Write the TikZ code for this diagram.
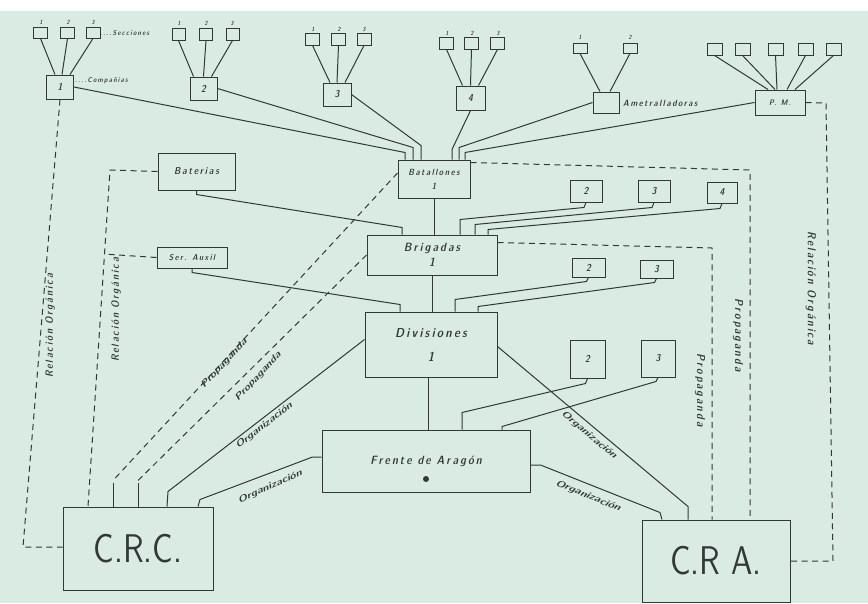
\documentclass[tikz,border=0pt]{standalone}
\usepackage{fontspec}
\newfontfamily\hand[LetterSpace=18]{lmsansdemicond10-oblique.otf}
\newfontfamily\handr{lmsansdemicond10-oblique.otf}
\newfontfamily\bigsans{lmsans10-regular.otf}
\usetikzlibrary{calc}
\definecolor{paper}{RGB}{218,235,227}
\definecolor{ink}{RGB}{50,56,54}
\begin{document}
\begin{tikzpicture}[x=1pt,y=-1pt,
  box/.style={draw=ink,line width=1pt,inner sep=0pt,align=center,text=ink,font=\hand\fontsize{10}{11}\selectfont},
  sec/.style={draw=ink,line width=0.9pt,inner sep=0pt,minimum width=14pt,minimum height=11pt},
  num/.style={text=ink,inner sep=0pt,font=\hand\fontsize{6}{6}\selectfont},
  conn/.style={draw=ink,line width=1pt},
  rel/.style={draw=ink,line width=1pt,dash pattern=on 6pt off 4.5pt},
  lab/.style={text=ink,inner sep=0pt,font=\hand\fontsize{9}{10}\selectfont},
  vlab/.style={text=ink,inner sep=0pt,font=\hand\fontsize{10.5}{11}\selectfont},
  slab/.style={text=ink,inner sep=0pt,font=\handr\fontsize{9}{10}\selectfont},
  biglab/.style={draw=ink,line width=1pt,inner sep=0pt,text=ink,font=\bigsans\fontsize{40}{40}\selectfont},
]
\useasboundingbox (0,0) rectangle (868,603);
\fill[paper] (0,0) rectangle (868,603);
\fill[white] (0,0) rectangle (868,11);

% ---------- sections and companies ----------
\node[sec] (s11) at (40.5,32.5) {};
\node[sec] (s12) at (67.5,32.5) {};
\node[sec] (s13) at (93,32.5) {};
\node[num] (n11) at (41,22) {1};
\node[num] (n12) at (68,22) {2};
\node[num] (n13) at (93,22) {3};
\node[box,minimum width=27pt,minimum height=24pt] (c1) at (60,87) {1};
\node[lab,anchor=west,font=\hand\fontsize{7}{8}\selectfont] (secc) at (100,33) {....Secciones};
\node[lab,anchor=west,font=\hand\fontsize{7}{8}\selectfont] (comp) at (75,81) {....Compañias};

\node[sec,minimum width=13pt,minimum height=12pt] (s21) at (178.5,34) {};
\node[sec,minimum width=13pt,minimum height=12pt] (s22) at (206,34) {};
\node[sec,minimum width=13pt,minimum height=12pt] (s23) at (232.5,34) {};
\node[num] (n21) at (179,23) {1};
\node[num] (n22) at (206,23) {2};
\node[num] (n23) at (232,23) {3};
\node[box,minimum width=27pt,minimum height=23pt] (c2) at (203.5,88.5) {2};

\node[sec,minimum height=12pt] (s31) at (312.5,39) {};
\node[sec,minimum height=12pt] (s32) at (338.5,39) {};
\node[sec,minimum height=12pt] (s33) at (364,39) {};
\node[num] (n31) at (313,29) {1};
\node[num] (n32) at (339,29) {2};
\node[num] (n33) at (364,29) {3};
\node[box,minimum width=28pt,minimum height=23pt] (c3) at (337,94.5) {3};

\node[sec,minimum height=12pt] (s41) at (446.5,43) {};
\node[sec,minimum height=12pt] (s42) at (471.5,43) {};
\node[sec,minimum height=12pt] (s43) at (497.5,43) {};
\node[num] (n41) at (447,33) {1};
\node[num] (n42) at (472,33) {2};
\node[num] (n43) at (498,33) {3};
\node[box,minimum width=29pt,minimum height=24pt] (c4) at (470.5,98) {4};

\node[sec,minimum height=10pt] (s51) at (580,48) {};
\node[sec,minimum height=10pt] (s52) at (630,48) {};
\node[num] (n51) at (580,37) {1};
\node[num] (n52) at (630,37) {2};
\node[box,minimum width=26pt,minimum height=21pt] (c5) at (606,102.5) {};
\node[lab,anchor=west] (amet) at (623,103) {Ametralladoras};

\node[sec,minimum width=15pt,minimum height=12pt] (p1) at (714.5,49) {};
\node[sec,minimum width=15pt,minimum height=12pt] (p2) at (742.5,49) {};
\node[sec,minimum width=15pt,minimum height=12pt] (p3) at (775.5,49) {};
\node[sec,minimum width=15pt,minimum height=12pt] (p4) at (805.5,49) {};
\node[sec,minimum width=15pt,minimum height=12pt] (p5) at (833.5,49) {};
\node[box,minimum width=50pt,minimum height=25pt,font=\hand\fontsize{8}{9}\selectfont] (pm) at (780,102.5) {P. M.};

\draw[conn] (s11.south) -- ([xshift=-5pt]c1.north);
\draw[conn] (s12.south) -- ([xshift=2pt]c1.north);
\draw[conn] (s13.south) -- ([xshift=10pt]c1.north);
\draw[conn] (s21.south) -- ([xshift=-10pt]c2.north);
\draw[conn] (s22.south) -- (c2.north);
\draw[conn] (s23.south) -- ([xshift=8pt]c2.north);
\draw[conn] (s31.south) -- ([xshift=-7pt]c3.north);
\draw[conn] (s32.south) -- (c3.north);
\draw[conn] (s33.south) -- ([xshift=8pt]c3.north);
\draw[conn] (s41.south) -- ([xshift=-8pt]c4.north);
\draw[conn] (s42.south) -- (c4.north);
\draw[conn] (s43.south) -- ([xshift=8pt]c4.north);
\draw[conn] (s51.south) -- ([xshift=-6pt]c5.north);
\draw[conn] (s52.south) -- ([xshift=4pt]c5.north);
\draw[conn] (p1.south) -- ([xshift=-12pt]pm.north);
\draw[conn] (p2.south) -- ([xshift=-5pt]pm.north);
\draw[conn] (p3.south) -- ([xshift=-3pt]pm.north);
\draw[conn] (p4.south) -- ([xshift=7pt]pm.north);
\draw[conn] (p5.south) -- ([xshift=15pt]pm.north);

% ---------- main chain ----------
\node[box,minimum width=72pt,minimum height=38pt,font=\hand\fontsize{9}{10}\selectfont] (bat) at (434,179) {Batallones\\[4pt]1};
\node[box,minimum width=77pt,minimum height=37pt] (bte) at (196.5,171.5) {Baterias};
\node[box,minimum width=70pt,minimum height=21pt,font=\hand\fontsize{8.5}{9}\selectfont] (sq) at (192,257.5) {Ser. Auxil};
\node[box,minimum width=130pt,minimum height=40pt,font=\hand\fontsize{12}{13}\selectfont] (bri) at (432,255) {Brigadas\\[2pt]1};
\node[box,minimum width=132pt,minimum height=65pt,font=\hand\fontsize{13}{14}\selectfont] (div) at (431,344.5) {Divisiones\\[10pt]1};
\node[box,minimum width=208pt,minimum height=62pt,font=\hand\fontsize{12}{13}\selectfont] (fre) at (426,461) {Frente de Aragón};
\fill[ink] ([yshift=-18pt]fre.center) circle (3pt);

\node[box,minimum width=32pt,minimum height=22pt] (b2) at (586,191) {2};
\node[box,minimum width=32pt,minimum height=22pt] (b3) at (654,191) {3};
\node[box,minimum width=30pt,minimum height=21pt] (b4) at (722,192.5) {4};
\node[box,minimum width=33pt,minimum height=19pt] (r2) at (588.5,267.5) {2};
\node[box,minimum width=33pt,minimum height=18pt] (r3) at (656.5,269) {3};
\node[box,minimum width=35pt,minimum height=38pt] (d2) at (587.5,359) {2};
\node[box,minimum width=34pt,minimum height=37pt] (d3) at (658,358.5) {3};

\node[biglab,minimum width=150pt,minimum height=83pt] (crc) at (138,548.5) {\scalebox{0.8}[1]{C.R.C.}};
\node[biglab,minimum width=148pt,minimum height=82pt] (cra) at (716,561) {\scalebox{0.8}[1]{C.R A.}};

% companies -> batallones
\draw[conn] (c1.east) -- ([xshift=-29pt,yshift=7pt]bat.north) -- ([xshift=-29pt]bat.north);
\draw[conn] (c2.east) -- ([xshift=-21pt,yshift=12pt]bat.north) -- ([xshift=-21pt]bat.north);
\draw[conn] (c3.east) -- ([xshift=-13pt,yshift=14pt]bat.north) -- ([xshift=-13pt]bat.north);
\draw[conn] (c4.south) -- ([xshift=18pt,yshift=10pt]bat.north) -- ([xshift=18pt]bat.north);
\draw[conn] (c5.west) -- ([xshift=25pt,yshift=12pt]bat.north) -- ([xshift=25pt]bat.north);
\draw[conn] (pm.west) -- ([xshift=31pt,yshift=7pt]bat.north) -- ([xshift=31pt]bat.north);

% vertical chain
\draw[conn] (bat.south) -- (bat.south |- bri.north);
\draw[conn] (bri.south) -- (bri.south |- div.north);
\draw[conn] ([xshift=-3pt]div.south) -- ([xshift=-3pt]div.south |- fre.north);

% side units
\draw[conn] (bte.south) -- ([yshift=-4pt]bte.south) -- ([xshift=-30pt,yshift=7pt]bri.north) -- ([xshift=-30pt]bri.north);
\draw[conn] (sq.south) -- ([yshift=-4pt]sq.south) -- ([xshift=-31pt,yshift=7pt]div.north) -- ([xshift=-31pt]div.north);
\draw[conn] (b2.south) -- ([xshift=-2pt,yshift=-5pt]b2.south) -- ([xshift=28pt,yshift=15pt]bri.north) -- ([xshift=28pt]bri.north);
\draw[conn] (b3.south) -- ([xshift=-2pt,yshift=-5pt]b3.south) -- ([xshift=43pt,yshift=10pt]bri.north) -- ([xshift=43pt]bri.north);
\draw[conn] (b4.south) -- ([xshift=-2pt,yshift=-5pt]b4.south) -- ([xshift=56pt,yshift=5pt]bri.north) -- ([xshift=56pt]bri.north);
\draw[conn] (r2.south) -- ([xshift=-2pt,yshift=-4pt]r2.south) -- ([xshift=24pt,yshift=12pt]div.north) -- ([xshift=24pt]div.north);
\draw[conn] (r3.south) -- ([xshift=-2pt,yshift=-4pt]r3.south) -- ([xshift=47pt,yshift=5pt]div.north) -- ([xshift=47pt]div.north);
\draw[conn] (d2.south) -- ([xshift=-2pt,yshift=-5pt]d2.south) -- ([xshift=36pt,yshift=17pt]fre.north) -- ([xshift=36pt]fre.north);
\draw[conn] (d3.south) -- ([xshift=-2pt,yshift=-4pt]d3.south) -- ([xshift=76pt,yshift=3pt]fre.north) -- ([xshift=76pt]fre.north);

% organizacion
\draw[conn] ([yshift=5pt]div.west) -- ([xshift=30pt,yshift=15pt]crc.north) -- ([xshift=29pt]crc.north);
\draw[conn] ([yshift=4pt]fre.west) -- ([xshift=-9pt,yshift=4pt]fre.west) -- ([xshift=62pt,yshift=7pt]crc.north) -- ([xshift=60pt]crc.north);
\draw[conn] ([yshift=-2pt]div.east) -- ([xshift=-28pt,yshift=13pt]cra.north) -- ([xshift=-28pt]cra.north);
\draw[conn] ([yshift=-4pt]fre.east) -- ([xshift=10pt,yshift=-4pt]fre.east) -- ([xshift=-56pt,yshift=7pt]cra.north) -- ([xshift=-54pt]cra.north);
\node[slab,rotate=37.6] (o1) at (264,426) {\scalebox{1.5}[1]{Organización}};
\node[slab,rotate=24] (o2) at (270,487) {\scalebox{1.5}[1]{Organización}};
\node[slab,rotate=-40] (o3) at (589,435) {\scalebox{1.5}[1]{Organización}};
\node[slab,rotate=-22] (o4) at (588,496) {\scalebox{1.5}[1]{Organización}};

% propaganda (left)
\draw[rel] ([yshift=6pt]bat.west) -- ([xshift=-25pt,yshift=26pt]crc.north);
\draw[conn] ([xshift=-25pt,yshift=24pt]crc.north) -- ([xshift=-25pt]crc.north);
\draw[rel] (bri.west) -- ([yshift=26pt]crc.north);
\draw[conn] ([yshift=24pt]crc.north) -- (crc.north);
\node[slab,rotate=47] (pp1) at (224,364) {\scalebox{1.5}[1]{Propaganda}};
\node[slab,rotate=47] (pp2) at (258,377) {\scalebox{1.5}[1]{Propaganda}};

% relacion organica (left)
\coordinate (lc1) at (23,547);
\draw[rel] (c1.south) -- (lc1) -- (lc1 -| crc.west);
\coordinate (lc2) at (110,170);
\coordinate (lc3) at ([xshift=-50pt]crc.north);
\draw[rel] (bte.west) -- (lc2) -- (lc3);
\draw[rel] (sq.west) -- ($(lc2)!(sq.west)!(lc3)$);
\node[vlab,rotate=90] (lro1) at (50,326) {Relación Orgánica};
\node[vlab,rotate=90] (lro2) at (116,310) {Relación Orgánica};

% right dashed relations
\coordinate (rc1) at (750,170);
\draw[rel] ([yshift=-3pt]bat.north east) -- (rc1) -- (rc1 |- cra.north);
\coordinate (rc2) at (712,248);
\draw[rel] ([yshift=-8pt]bri.north east) -- (rc2) -- (rc2 |- cra.north);
\coordinate (rc3) at (826,103);
\coordinate (rc4) at (833,0);
\draw[rel] (pm.east) -- (rc3) -- (rc4 |- cra.east) -- (cra.east);
\node[vlab,rotate=-90,font=\hand\fontsize{11.5}{12}\selectfont] (rp1) at (700,390) {Propaganda};
\node[vlab,rotate=-90,font=\hand\fontsize{11.5}{12}\selectfont] (rp2) at (738,335) {Propaganda};
\node[vlab,rotate=-90,font=\hand\fontsize{11.5}{12}\selectfont] (rro) at (811,288) {Relación Orgánica};
\end{tikzpicture}
\end{document}
